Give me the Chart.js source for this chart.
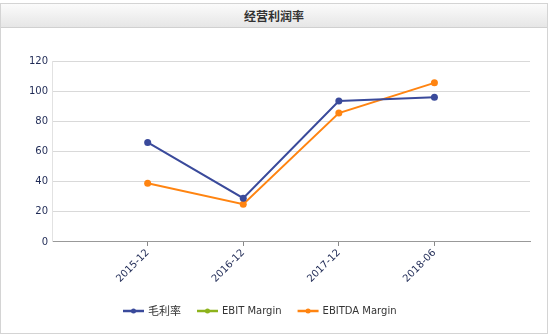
<!DOCTYPE html>
<html>
<head>
<meta charset="utf-8">
<script src="https://cdn.jsdelivr.net/npm/chart.js@4.4.1/dist/chart.umd.min.js"></script>
<style>
  body { margin: 0; background: #fff; font-family: "DejaVu Sans", sans-serif; }
  .box { position: absolute; left: 0; top: 3px; width: 546px; height: 329px; border: 1px solid #d4d4d4; }
  .head { height: 23px; line-height: 23px; text-align: center; font-size: 12px; font-weight: bold; color: #333;
          font-family: "Noto Sans CJK SC", sans-serif;
          background: linear-gradient(#fbfbfb, #e6e6e6); border-bottom: 1px solid #d0d0d0; }
  .wrap { position: relative; width: 546px; height: 305px; }
</style>
</head>
<body>
<div class="box">
  <div class="head">经营利润率</div>
  <div class="wrap"><canvas id="lineChart"></canvas></div>
</div>
<script>
// categorias e séries
const periodos = ['2015-12', '2016-12', '2017-12', '2018-06']
const margemBruta = [66, 29, 93.5, 96]
const margemEbit = [null, null, null, null]
const margemEbitda = [39, 25, 85.5, 105.5]
const yTicks = [0, 20, 40, 60, 80, 100, 120]

// o eixo tem um espaço vazio antes e depois das categorias
const labels = [''].concat(periodos, [''])
const pad = arr => [null].concat(arr, [null])

const ctxLinha = document.getElementById('lineChart').getContext('2d')

const series = [
  { label: '毛利率', data: pad(margemBruta), color: '#3a4a9b' },
  { label: 'EBIT Margin', data: pad(margemEbit), color: '#8db31c' },
  { label: 'EBITDA Margin', data: pad(margemEbitda), color: '#ff8411' }
]

// legenda desenhada à mão (linha + bolinha + texto)
const legendaManual = {
  id: 'legendaManual',
  afterDraw(chart) {
    const c = chart.ctx
    let x = 122
    const y = 283
    c.save()
    series.forEach(s => {
      c.strokeStyle = s.color
      c.lineWidth = 2.5
      c.beginPath()
      c.moveTo(x, y)
      c.lineTo(x + 21, y)
      c.stroke()
      c.fillStyle = s.color
      c.beginPath()
      c.arc(x + 10.5, y, 2.5, 0, Math.PI * 2)
      c.fill()
      const cjk = /[\u4e00-\u9fff]/.test(s.label)
      c.font = cjk ? '11px "Noto Sans CJK SC", sans-serif' : '10px "DejaVu Sans", sans-serif'
      c.fillStyle = '#333'
      c.textBaseline = 'middle'
      c.fillText(s.label, x + 25, y)
      x += 25 + c.measureText(s.label).width + 16
    })
    c.restore()
  }
}

const configLinha = {
  type: 'line',
  data: {
    labels: labels,
    datasets: series.map(s => ({
      label: s.label,
      data: s.data,
      borderColor: s.color,
      backgroundColor: s.color,
      borderWidth: 2,
      pointRadius: 3.5,
      pointBorderWidth: 0,
      pointBackgroundColor: s.color,
      tension: 0
    }))
  },
  options: {
    responsive: true,
    maintainAspectRatio: false,
    animation: false,
    layout: { padding: { left: 24, right: 17, top: 33, bottom: 47 } },
    plugins: {
      tooltip: { enabled: false },
      legend: { display: false }
    },
    scales: {
      x: {
        offset: false,
        grid: {
          drawOnChartArea: false,
          drawTicks: true,
          tickLength: 4,
          color: ctx => (ctx.tick && ctx.tick.label) ? '#888' : 'rgba(0,0,0,0)'
        },
        border: { color: '#999' },
        ticks: {
          autoSkip: false,
          minRotation: 45,
          maxRotation: 45,
          padding: 1,
          color: '#1f2a55',
          font: { family: '"DejaVu Sans", sans-serif', size: 10 }
        }
      },
      y: {
        min: 0,
        max: 120,
        afterBuildTicks: axis => { axis.ticks = yTicks.map(v => ({ value: v })) },
        grid: { color: '#d9d9d9', drawTicks: false },
        border: { color: '#e2e2e2' },
        ticks: {
          padding: 4,
          color: '#1f2a55',
          font: { family: '"DejaVu Sans", sans-serif', size: 10 }
        }
      }
    }
  },
  plugins: [legendaManual]
}

const lineChart = new Chart(ctxLinha, configLinha)
</script>
</body>
</html>
